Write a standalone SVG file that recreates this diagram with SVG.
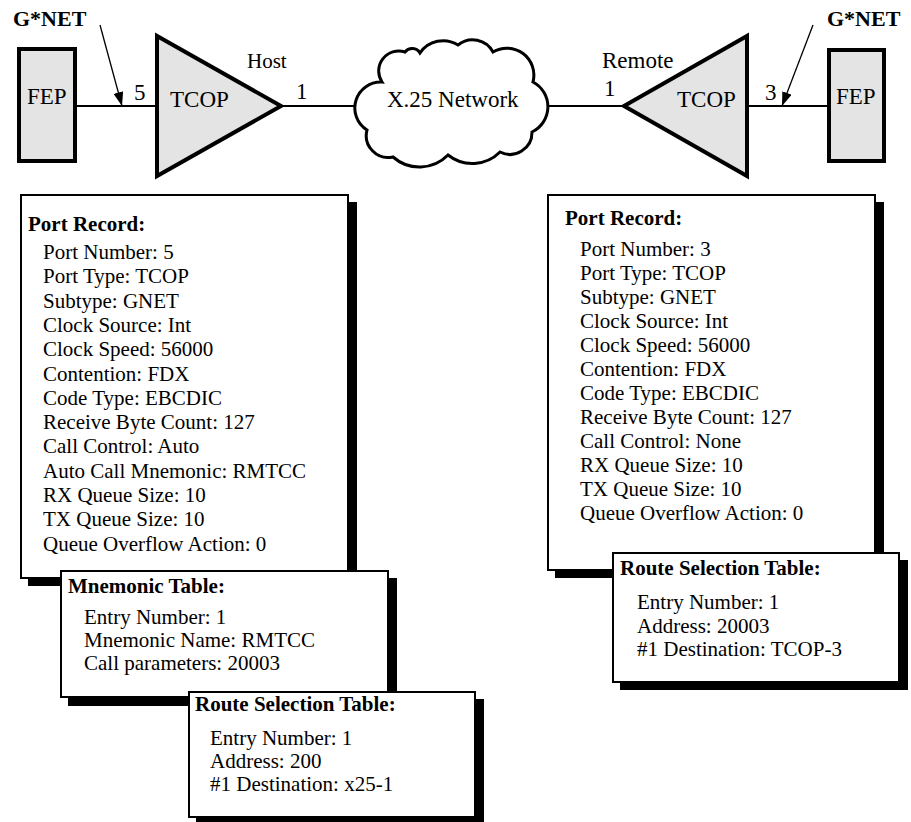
<svg xmlns="http://www.w3.org/2000/svg" width="911" height="822" viewBox="0 0 911 822">
<style>
text{font-family:"Liberation Serif","Times New Roman",serif;fill:#000}
.lbl{font-size:23px}
.b{font-weight:bold}
.t{font-size:21px}
.h{font-size:21px;font-weight:bold}
.dev{fill:#e4e4e4;stroke:#000;stroke-width:4}
.box{fill:#fff;stroke:#000;stroke-width:2}
.sh{fill:#000}
.wire{stroke:#000;stroke-width:2;fill:none}
.ptr{stroke:#000;stroke-width:1.3;fill:none}
</style>
<defs>
<marker id="ah2" viewBox="0 0 14 10" refX="14" refY="5" markerWidth="14" markerHeight="10" markerUnits="userSpaceOnUse" orient="auto">
<path d="M0,0 L14,5 L0,10 Z" fill="#000"/>
</marker>
</defs>

<g id="connectors">
<line class="wire" x1="77" y1="106" x2="157" y2="106"/>
<line class="wire" x1="281" y1="106" x2="356" y2="106"/>
<line class="wire" x1="547" y1="106" x2="624" y2="106"/>
<line class="wire" x1="747" y1="106" x2="829" y2="106"/>
<line class="ptr" x1="100" y1="25" x2="122" y2="106" marker-end="url(#ah2)"/>
<line class="ptr" x1="813" y1="25" x2="782" y2="106" marker-end="url(#ah2)"/>
</g>

<g id="gnet-left"><text class="lbl b" x="13" y="26" style="font-size:22px">G*NET</text></g>
<g id="gnet-right"><text class="lbl b" x="827" y="26" style="font-size:22px">G*NET</text></g>

<g id="fep-left">
<rect class="dev" x="19" y="49" width="56" height="112"/>
<text class="lbl" x="27" y="104">FEP</text>
</g>

<g id="tcop-host">
<polygon class="dev" points="157,36 157,176 281,106"/>
<text class="lbl" x="170" y="107">TCOP</text>
<text class="lbl" x="134" y="100">5</text>
<text class="lbl" x="296" y="99">1</text>
<text class="lbl" x="247" y="68" style="font-size:21px">Host</text>
</g>

<g id="x25-network">
<path d="M367,130 A26,26 0 0 1 382,82 A20,20 0 0 1 405,52 A9,9 0 0 1 420,53 A28,28 0 0 1 458,45 A23,23 0 0 1 493,52 A27,27 0 0 1 533,82 A28,28 0 0 1 532,132 A22,22 0 0 1 500,152 A39,39 0 0 1 448,155 A40,40 0 0 1 393,157 A22,22 0 0 1 367,130 Z" fill="#fff" stroke="#000" stroke-width="3"/>
<text class="lbl" x="387" y="107">X.25 Network</text>
</g>

<g id="tcop-remote">
<polygon class="dev" points="747,36 747,176 624,106"/>
<text class="lbl" x="677" y="107">TCOP</text>
<text class="lbl" x="765" y="100">3</text>
<text class="lbl" x="604" y="96">1</text>
<text class="lbl" x="602" y="68">Remote</text>
</g>

<g id="fep-right">
<rect class="dev" x="829" y="50" width="55" height="111"/>
<text class="lbl" x="836" y="104">FEP</text>
</g>

<g id="port-record-host">
<rect class="sh" x="28" y="202" width="329" height="384"/>
<rect class="box" x="21" y="195" width="327" height="383"/>
<text class="h" x="28" y="231">Port Record:</text>
<text class="t" x="43" y="259">Port Number: 5</text>
<text class="t" x="43" y="283.3">Port Type: TCOP</text>
<text class="t" x="43" y="307.6">Subtype: GNET</text>
<text class="t" x="43" y="331.9">Clock Source: Int</text>
<text class="t" x="43" y="356.2">Clock Speed: 56000</text>
<text class="t" x="43" y="380.5">Contention: FDX</text>
<text class="t" x="43" y="404.8">Code Type: EBCDIC</text>
<text class="t" x="43" y="429.1">Receive Byte Count: 127</text>
<text class="t" x="43" y="453.4">Call Control: Auto</text>
<text class="t" x="43" y="477.7">Auto Call Mnemonic: RMTCC</text>
<text class="t" x="43" y="502">RX Queue Size: 10</text>
<text class="t" x="43" y="526.3">TX Queue Size: 10</text>
<text class="t" x="43" y="550.6">Queue Overflow Action: 0</text>
</g>

<g id="mnemonic-table">
<rect class="sh" x="68" y="578" width="329" height="128"/>
<rect class="box" x="61" y="571" width="327" height="126"/>
<text class="h" x="68" y="593">Mnemonic Table:</text>
<text class="t" x="84" y="624">Entry Number: 1</text>
<text class="t" x="84" y="647">Mnemonic Name: RMTCC</text>
<text class="t" x="84" y="670">Call parameters: 20003</text>
</g>

<g id="route-table-host">
<rect class="sh" x="196" y="699" width="288" height="130"/>
<rect class="box" x="189" y="692" width="286" height="125"/>
<text class="h" x="195" y="711">Route Selection Table:</text>
<text class="t" x="210" y="745">Entry Number: 1</text>
<text class="t" x="210" y="768">Address: 200</text>
<text class="t" x="210" y="791">#1 Destination: x25-1</text>
</g>

<g id="port-record-remote">
<rect class="sh" x="555" y="202" width="329" height="376"/>
<rect class="box" x="548" y="195" width="327" height="375"/>
<text class="h" x="565" y="225">Port Record:</text>
<text class="t" x="580" y="256">Port Number: 3</text>
<text class="t" x="580" y="280">Port Type: TCOP</text>
<text class="t" x="580" y="304">Subtype: GNET</text>
<text class="t" x="580" y="328">Clock Source: Int</text>
<text class="t" x="580" y="352">Clock Speed: 56000</text>
<text class="t" x="580" y="376">Contention: FDX</text>
<text class="t" x="580" y="400">Code Type: EBCDIC</text>
<text class="t" x="580" y="424">Receive Byte Count: 127</text>
<text class="t" x="580" y="448">Call Control: None</text>
<text class="t" x="580" y="472">RX Queue Size: 10</text>
<text class="t" x="580" y="496">TX Queue Size: 10</text>
<text class="t" x="580" y="520">Queue Overflow Action: 0</text>
</g>

<g id="route-table-remote">
<rect class="sh" x="620" y="560" width="288" height="130"/>
<rect class="box" x="613" y="553" width="286" height="129"/>
<text class="h" x="620" y="575">Route Selection Table:</text>
<text class="t" x="637" y="609">Entry Number: 1</text>
<text class="t" x="637" y="633">Address: 20003</text>
<text class="t" x="637" y="656">#1 Destination: TCOP-3</text>
</g>
</svg>
